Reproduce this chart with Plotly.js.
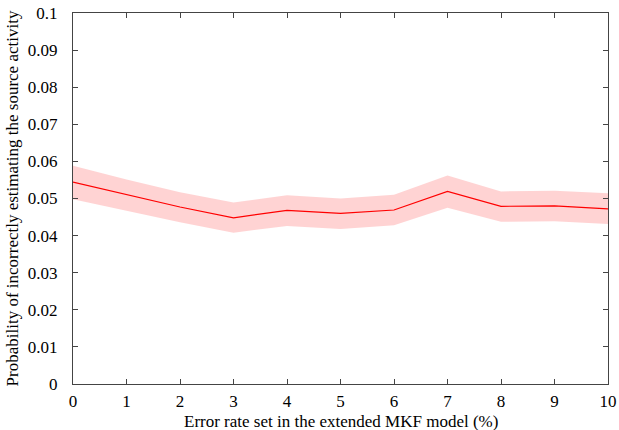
<!DOCTYPE html>
<html>
<head>
<meta charset="utf-8">
<script src="https://cdn.plot.ly/plotly-3.0.1.min.js"></script>
<style>
  html, body { margin: 0; padding: 0; background: #fff; }
  #chart { width: 619px; height: 430px; }
</style>
</head>
<body>
<div id="chart"></div>
<script>
// error rate (%) set in the extended MKF model
const error_rate = [0, 1, 2, 3, 4, 5, 6, 7, 8, 9, 10];
// probability of incorrect estimation, mean and band
const prob_mean  = [0.0544, 0.0510, 0.0477, 0.0448, 0.0468, 0.0460, 0.0469, 0.0519, 0.0479, 0.0480, 0.0472];
const prob_upper = [0.0588, 0.0551, 0.0517, 0.0489, 0.0509, 0.0500, 0.0510, 0.0562, 0.0519, 0.0521, 0.0514];
const prob_lower = [0.0498, 0.0466, 0.0436, 0.0408, 0.0426, 0.0418, 0.0428, 0.0475, 0.0437, 0.0439, 0.0431];

const y_tickvals = [0, 0.01, 0.02, 0.03, 0.04, 0.05, 0.06, 0.07, 0.08, 0.09, 0.1];
const y_ticktext = ['0', '0.01', '0.02', '0.03', '0.04', '0.05', '0.06', '0.07', '0.08', '0.09', '0.1'];

const x_title = 'Error rate set in the extended MKF model (%)';
const y_title = 'Probability of incorrectly estimating the source activity';

const FONT = {
  family: 'Liberation Serif',
  size: 17,
  color: '#000',
};

const axis_common = {
  showgrid: false,
  zeroline: false,
  showline: true,
  linecolor: '#444',
  linewidth: 1,
  mirror: 'ticks',
  ticks: 'inside',
  ticklen: 5,
  tickcolor: '#444',
  tickfont: FONT,
};

const traces = [
  {
    x: error_rate,
    y: prob_lower,
    mode: 'lines',
    line: {width: 0, color: 'rgba(0,0,0,0)'},
    hoverinfo: 'skip',
    showlegend: false,
  },
  {
    x: error_rate,
    y: prob_upper,
    mode: 'lines',
    fill: 'tonexty',
    fillcolor: 'rgba(255,168,168,0.5)',
    line: {width: 0, color: 'rgba(0,0,0,0)'},
    hoverinfo: 'skip',
    showlegend: false,
  },
  {
    x: error_rate,
    y: prob_mean,
    mode: 'lines',
    line: {width: 1.2, color: '#ff0000'},
    showlegend: false,
  },
];

const layout = {
  width: 619,
  height: 430,
  paper_bgcolor: '#fff',
  plot_bgcolor: '#fff',
  font: FONT,
  margin: {l: 73, r: 11, t: 13, b: 46, pad: 0},
  xaxis: {
    ...axis_common,
    range: [0, 10],
    tickmode: 'array',
    tickvals: error_rate,
    ticklabelstandoff: 2,
  },
  yaxis: {
    ...axis_common,
    range: [0, 0.1],
    tickmode: 'array',
    tickvals: y_tickvals,
    ticktext: y_ticktext,
    ticklabelstandoff: 11,
    title: {text: y_title, font: FONT, standoff: 4},
  },
  // x title sits tight under the tick labels, as in the original
  annotations: [{
    text: x_title,
    font: FONT,
    xref: 'paper',
    yref: 'paper',
    x: 0.5,
    y: 0,
    xanchor: 'center',
    yanchor: 'top',
    yshift: -26,
    showarrow: false,
  }],
  showlegend: false,
};

Plotly.newPlot('chart', traces, layout, {displayModeBar: false, staticPlot: true});
</script>
</body>
</html>
